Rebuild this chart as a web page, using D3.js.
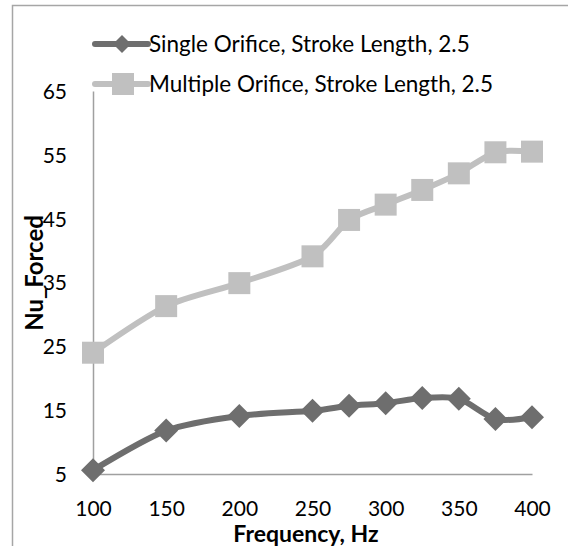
<!DOCTYPE html>
<html><head><meta charset="utf-8">
<script src="https://cdn.jsdelivr.net/npm/d3@7"></script>
<style>body{margin:0;background:#fff}svg{display:block}text{font-family:Lato,"Open Sans",sans-serif;fill:#000}</style>
</head><body>
<svg id="c" width="568" height="546"></svg>
<script>
const frequency = [100,150,200,250,275,300,325,350,375,400];
const singleOrifice = [5.6,11.8,14.1,14.9,15.7,16.1,16.9,16.8,13.6,13.9];
const multipleOrifice = [24.0,31.3,34.9,39.1,44.8,47.2,49.5,52.1,55.4,55.5];
const xTicks = [100,150,200,250,300,350,400];
const yTicks = [5,15,25,35,45,55,65];
const seriesNames = ["Single Orifice, Stroke Length, 2.5","Multiple Orifice, Stroke Length, 2.5"];

const svg = d3.select("#c");
svg.append("rect").attr("x",12.5).attr("y",5.5).attr("width",560).attr("height",560)
  .attr("fill","none").attr("stroke","#a6a6a6").attr("stroke-width",1.5);

const x = d3.scaleLinear().domain([100,400]).range([93,532]);
const y = d3.scaleLinear().domain([5,65]).range([474,91]);
const axisColor = "#a0a0a0";
const FONT = "Lato,'Open Sans',sans-serif";

// axes
const gx = svg.append("g").attr("transform","translate(0,474)")
  .call(d3.axisBottom(x).tickValues(xTicks).tickSize(0).tickPadding(0).tickFormat(d3.format("d")));
const gy = svg.append("g").attr("transform","translate(93,0)")
  .call(d3.axisLeft(y).tickValues(yTicks).tickSize(0).tickPadding(26).tickFormat(d3.format("d")));
[gx,gy].forEach(g=>{
  g.select(".domain").attr("stroke",axisColor).attr("stroke-width",1.5);
  g.selectAll("text").attr("font-size",21).attr("font-family",FONT).attr("fill","#000");
});
gx.selectAll("text").attr("y",35).attr("dy","0.35em");
gy.selectAll("text").attr("dy","0.35em");

const line = d3.line().x((d,i)=>x(frequency[i])).y(d=>y(d)).curve(d3.curveCardinal.tension(0.2));

const series = [
  {vals: multipleOrifice, color:"#c0c0c0", shape:"square"},
  {vals: singleOrifice, color:"#6e6e6e", shape:"diamond"}
];
function marker(g, cx, cy, s){
  if (s.shape==="square"){
    g.append("rect").attr("x",cx-11).attr("y",cy-11).attr("width",22).attr("height",22).attr("fill",s.color);
  } else {
    g.append("path").attr("d",`M${cx},${cy-12}L${cx+12},${cy}L${cx},${cy+12}L${cx-12},${cy}Z`).attr("fill",s.color);
  }
}
series.forEach(s=>{
  svg.append("path").datum(s.vals).attr("d",line).attr("fill","none")
    .attr("stroke",s.color).attr("stroke-width",6).attr("stroke-linejoin","round");
  const g = svg.append("g");
  s.vals.forEach((v,i)=>marker(g, x(frequency[i]), y(v), s));
});

// legend
const legendItems = [
  {name: seriesNames[0], color:"#6e6e6e", shape:"diamond"},
  {name: seriesNames[1], color:"#c0c0c0", shape:"square"}
];
legendItems.forEach((it,i)=>{
  const ly = 44 + i*40;
  svg.append("line").attr("x1",95).attr("x2",148).attr("y1",ly).attr("y2",ly)
    .attr("stroke",it.color).attr("stroke-width",6).attr("stroke-linecap","round");
  const g = svg.append("g");
  if (it.shape==="diamond"){
    g.append("path").attr("d",`M122,${ly-9}L131,${ly}L122,${ly+9}L113,${ly}Z`).attr("fill",it.color);
  } else {
    g.append("rect").attr("x",112).attr("y",ly-11).attr("width",22).attr("height",22).attr("fill",it.color);
  }
  svg.append("text").attr("x",149).attr("y",ly).attr("dy","0.35em").attr("font-size",22.5).text(it.name);
});

// axis titles
svg.append("text").attr("x",306).attr("y",542).attr("text-anchor","middle")
  .attr("font-size",23).attr("font-weight","bold").text("Frequency, Hz");
svg.append("text").attr("transform","translate(43,273) rotate(-90)").attr("text-anchor","middle")
  .attr("font-size",24).attr("font-weight","bold").text("Nu_Forced");
</script>
</body></html>
